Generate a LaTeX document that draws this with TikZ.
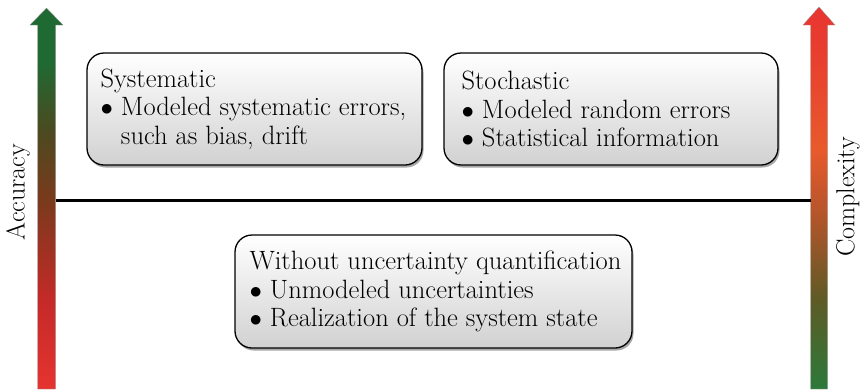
\documentclass[tikz,border=0pt]{standalone}
\usepackage{fontspec}
\usetikzlibrary{shadows}
\definecolor{aRed}{HTML}{E53430}
\definecolor{aRedB}{HTML}{C42A28}
\definecolor{aBrown}{HTML}{7A3A1C}
\definecolor{aOlive}{HTML}{4B4A20}
\definecolor{aGreen}{HTML}{1F6A33}
\definecolor{cGreen}{HTML}{2B7A3A}
\definecolor{cOlive}{HTML}{5E5A25}
\definecolor{cBrown}{HTML}{B0552A}
\definecolor{cOrange}{HTML}{E85A2C}
\definecolor{cRed}{HTML}{E8402E}
\definecolor{cRedT}{HTML}{E83530}
\pgfdeclareverticalshading{accshade}{100bp}{color(0bp)=(aRed); color(25bp)=(aRed); color(36.7bp)=(aRedB); color(49.8bp)=(aBrown); color(59bp)=(aOlive); color(68bp)=(aGreen); color(75bp)=(aGreen); color(100bp)=(aGreen)}
\pgfdeclareverticalshading{cmpshade}{100bp}{color(0bp)=(cGreen); color(25bp)=(cGreen); color(36.7bp)=(cOlive); color(47.2bp)=(cBrown); color(56.4bp)=(cOrange); color(68bp)=(cRed); color(75bp)=(cRedT); color(100bp)=(cRedT)}
\tikzset{
  box/.style={draw, line width=1.3pt, rounded corners=17pt, top color=white, bottom color=black!18,
    drop shadow={shadow xshift=1.5pt, shadow yshift=-2.5pt, opacity=0.35, fill=black}, inner sep=0pt},
  boxtext/.style={align=left, font=\fontsize{26.5}{28.5}\selectfont, inner sep=0pt, anchor=west},
  axislabel/.style={rotate=90, font=\fontsize{26}{30}\selectfont, inner sep=0pt},
  divider/.style={line width=3pt},
  bigarrow/.style={draw=black!40, line width=0.3pt}
}
\newcommand{\bul}{$\bullet$\ }
\begin{document}
\begin{tikzpicture}[x=1pt,y=-1pt]
\useasboundingbox (0,0) rectangle (863,389);
% left arrow
\shade[shading=accshade, bigarrow] (37.5,389) -- (37.5,25) -- (30,25) -- (46.5,8) -- (63,25) -- (55.5,25) -- (55.5,389) -- cycle;
% right arrow
\shade[shading=cmpshade, bigarrow] (810.5,389) -- (810.5,25) -- (803,25) -- (819,7) -- (835,25) -- (827.5,25) -- (827.5,389) -- cycle;
\coordinate (L) at (55.5,200);
\coordinate (R) at (810.5,200);
\draw[divider] (L) -- (R);
\node[axislabel] (acc) at (18,192) {Accuracy};
\node[axislabel] (cmp) at (848,197) {Complexity};
\node[box, minimum width=335pt, minimum height=112pt] (sys) at (254.5,109) {};
\node[boxtext] (sysT) at ([xshift=14pt]sys.west)
  {Systematic\\ \bul Modeled systematic errors,\\ \hphantom{\bul}such as bias, drift};
\node[box, minimum width=334pt, minimum height=112pt] (sto) at (611,109) {};
\node[boxtext] (stoT) at ([xshift=18pt]sto.west)
  {Stochastic\\ \bul Modeled random errors\\ \bul Statistical information};
\node[box, minimum width=397pt, minimum height=113pt] (wo) at (433.5,291.5) {};
\node[boxtext] (woT) at ([xshift=15pt]wo.west)
  {Without uncertainty quantification\\ \bul Unmodeled uncertainties\\ \bul Realization of the system state};
\end{tikzpicture}
\end{document}
